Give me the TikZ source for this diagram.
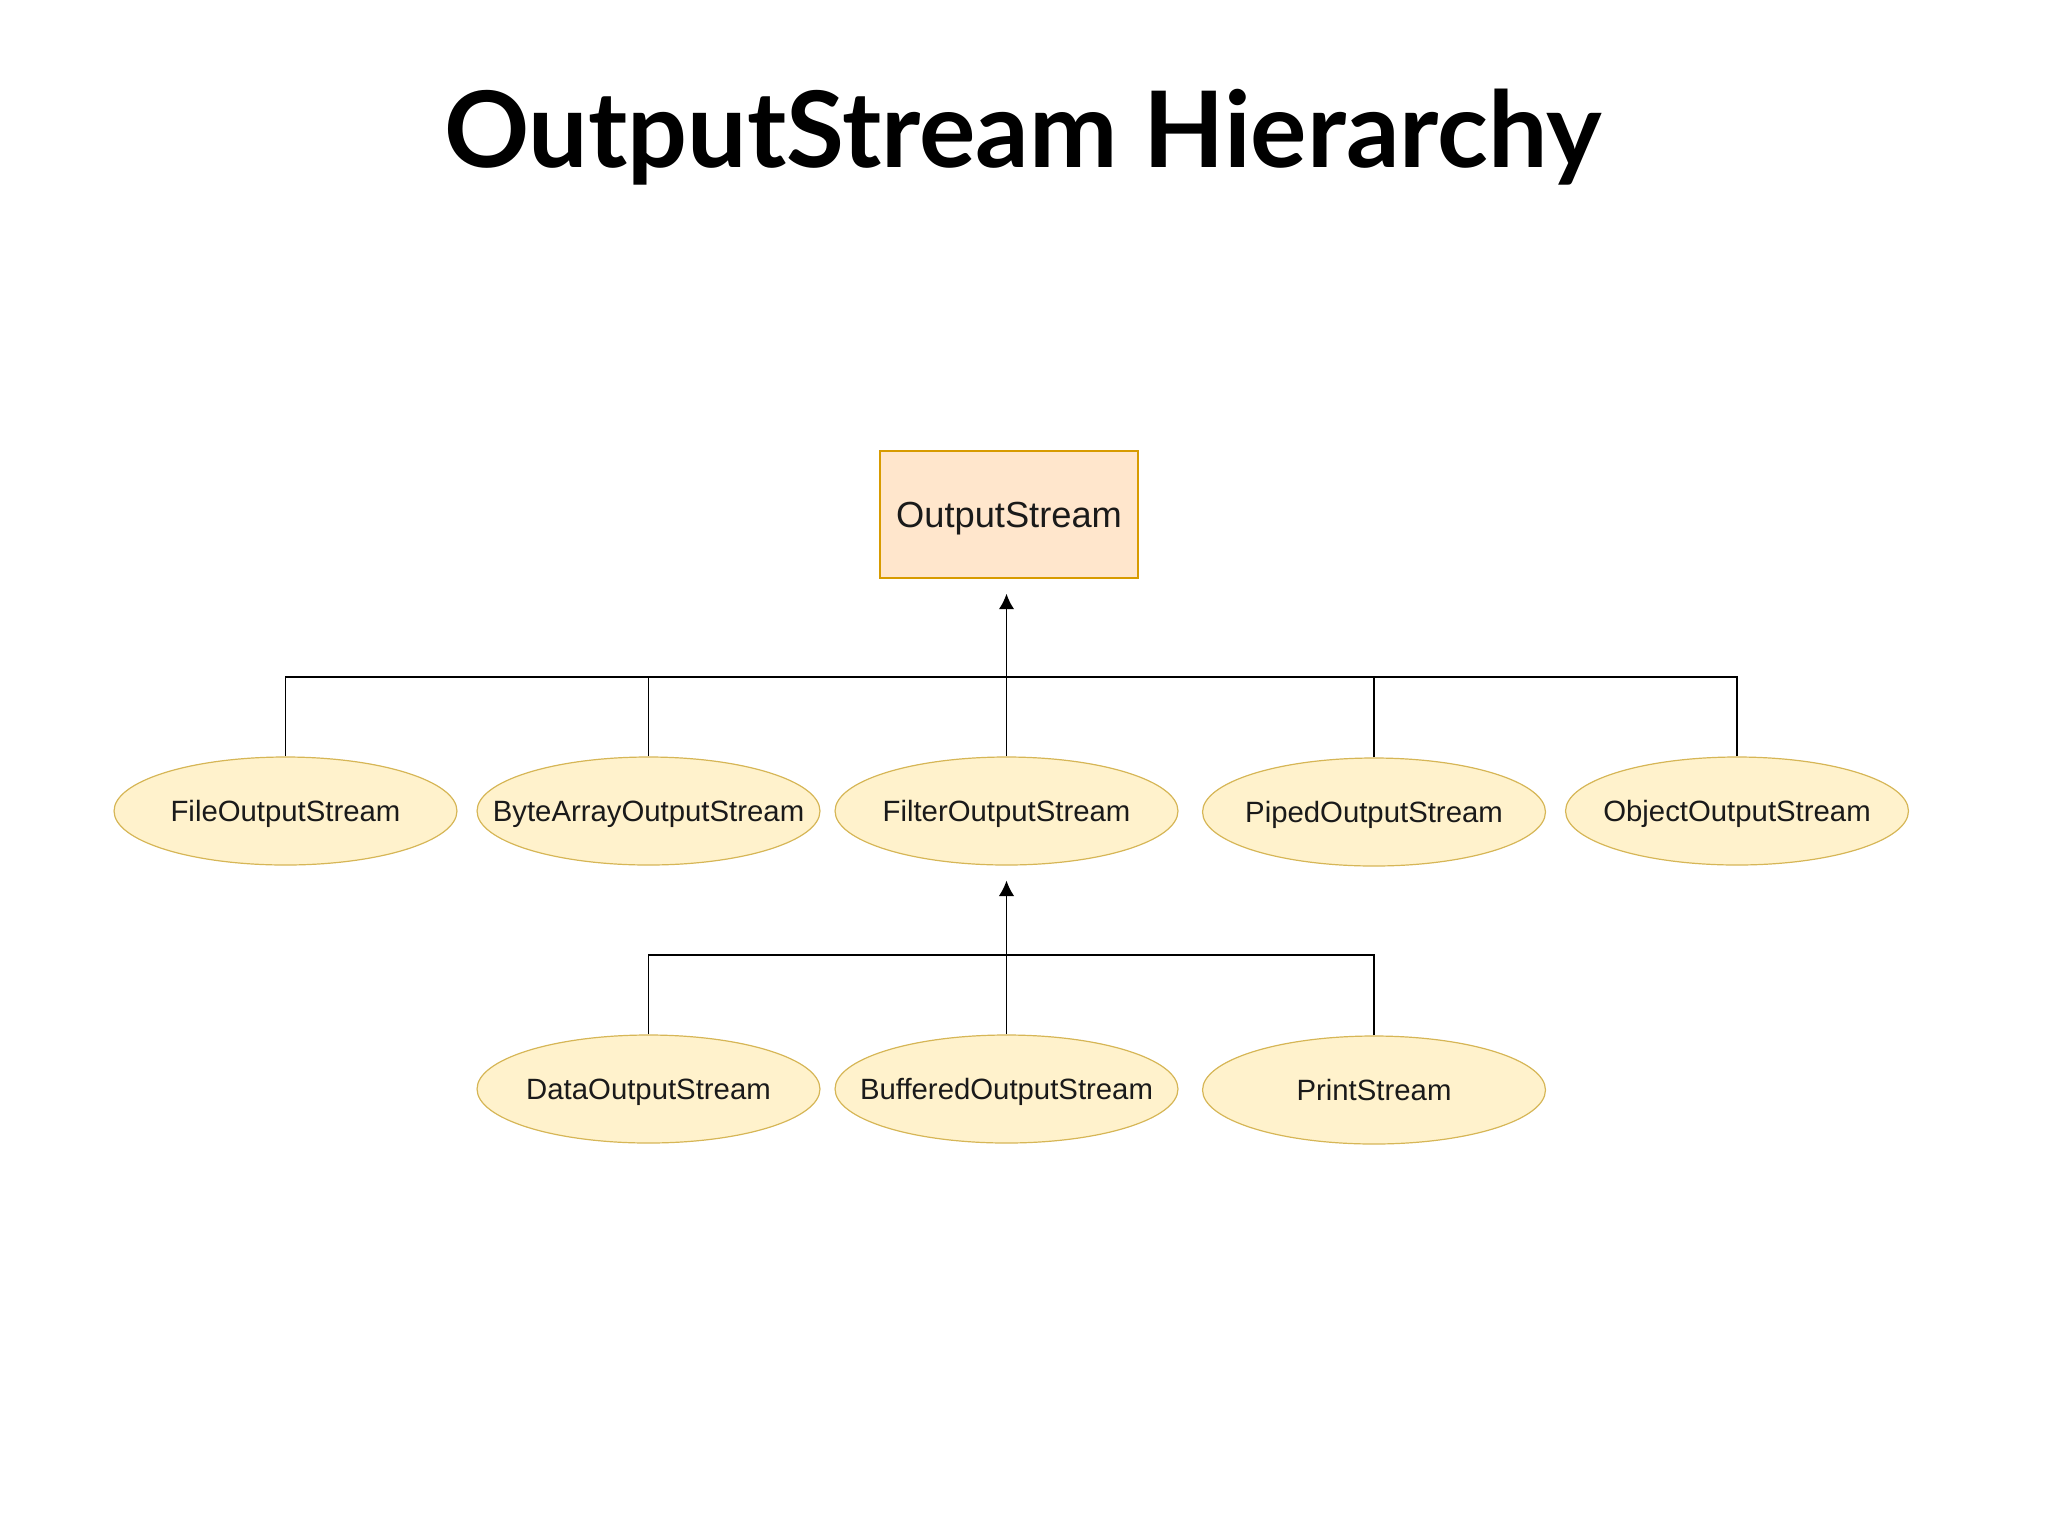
\documentclass[tikz,border=0pt]{standalone}
\usepackage{fontspec}
\setmainfont{Liberation Sans}
\newfontfamily\titlefont{Lato}
\usetikzlibrary{shapes.geometric,arrows.meta}
\definecolor{boxfill}{HTML}{FFE6CC}
\definecolor{boxdraw}{HTML}{D79B00}
\definecolor{ellfill}{HTML}{FFF2CC}
\definecolor{elldraw}{HTML}{D6B656}
\definecolor{txt}{HTML}{1A1A1A}
\newcommand{\ellt}[1]{\makebox[0pt][c]{\raisebox{-4pt}[0pt][0pt]{#1}}}
\tikzset{
  rootbox/.style={draw=boxdraw, fill=boxfill, line width=0.6pt, minimum width=96.75pt, minimum height=47.6pt, inner sep=0pt, font=\fontsize{13.6}{16}\selectfont, text=txt},
  classell/.style={ellipse, draw=elldraw, fill=ellfill, line width=0.45pt, minimum width=128.6pt, minimum height=40.5pt, inner sep=0pt, font=\fontsize{11}{13}\selectfont, text=txt},
  conn/.style={line width=0.65pt, draw=black},
  inherit/.style={conn, -{Latex[length=5.8pt,width=5.8pt]}, shorten >=5.6pt},
}
\begin{document}
\begin{tikzpicture}[x=0.375pt, y=-0.375pt]
\useasboundingbox (0,0) rectangle (2048,1536);
\node[anchor=base, font=\titlefont\bfseries\fontsize{39.6}{46}\selectfont] (title) at (1023,167) {OutputStream Hierarchy};

\node[rootbox] (os) at (1009,514.5) {\makebox[0pt][c]{\raisebox{-5pt}[0pt][0pt]{OutputStream}}};

\node[classell] (fos) at (285.5,811) {\ellt{FileOutputStream}};
\node[classell] (baos) at (648.5,811) {\ellt{ByteArrayOutputStream}};
\node[classell] (filt) at (1006.5,811) {\ellt{FilterOutputStream}};
\node[classell] (pos) at (1374,812) {\ellt{PipedOutputStream}};
\node[classell] (oos) at (1737,811) {\ellt{ObjectOutputStream}};

\node[classell] (dos) at (648.5,1089) {\ellt{DataOutputStream}};
\node[classell] (bos) at (1006.5,1089) {\ellt{BufferedOutputStream}};
\node[classell] (ps) at (1374,1090) {\ellt{PrintStream}};

\coordinate (bus1) at (1006.5,677);
\coordinate (bus2) at (1006.5,955);

\draw[conn] (fos.north) |- (bus1);
\draw[conn] (baos.north) |- (bus1);
\draw[conn] (filt.north) -- (bus1);
\draw[conn] (pos.north) |- (bus1);
\draw[conn] (oos.north) |- (bus1);
\draw[inherit] (bus1) -- (bus1 |- os.south);

\draw[conn] (dos.north) |- (bus2);
\draw[conn] (bos.north) -- (bus2);
\draw[conn] (ps.north) |- (bus2);
\draw[inherit] (bus2) -- (filt.south);
\end{tikzpicture}
\end{document}
